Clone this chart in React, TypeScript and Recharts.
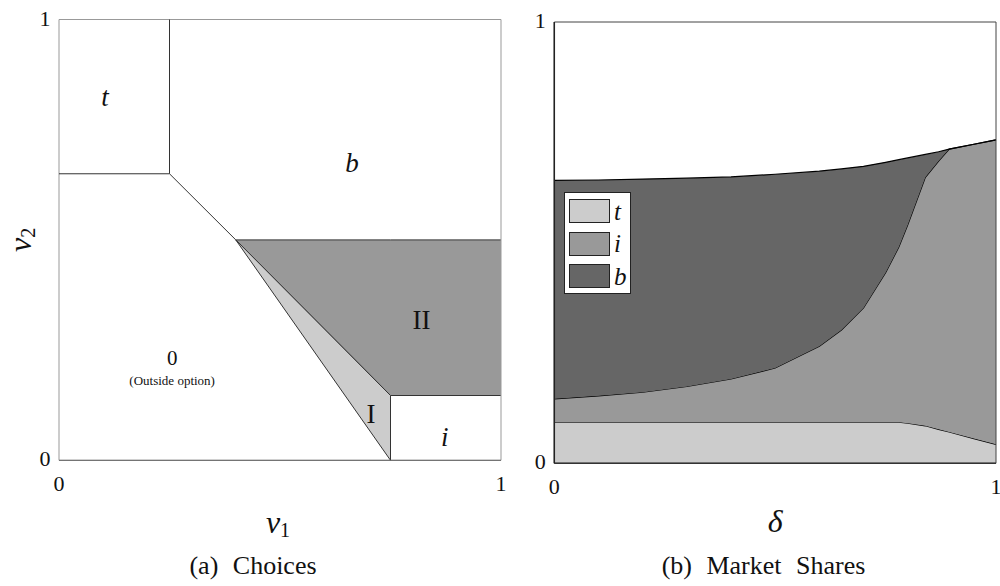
import React from 'react'
import {
  ComposedChart, Area, Scatter, XAxis, YAxis, ReferenceLine, ReferenceArea, Legend,
} from 'recharts'

// ─── Shared ──────────────────────────────────────────────────────────────────

const FONT = '"Liberation Serif", "DejaVu Serif", serif'
const INK = '#111'

// ─── Panel (a): choice regions over (v1, v2) ─────────────────────────────────

const UNIT_TICKS = [0, 1]

// region I (light wedge): v1 → [lower, upper] boundary in v2
const WEDGE_V1 = [0.4, 0.75]
const WEDGE_LOW = [0.5, 0]
const WEDGE_HIGH = [0.5, 0.147]

// region II (dark band)
const BAND_V1 = [0.4, 0.75, 1]
const BAND_LOW = [0.5, 0.147, 0.147]
const BAND_HIGH = [0.5, 0.5, 0.5]

// boundary segments as [v1 start, v2 start, v1 end, v2 end]
const BOUNDARIES = [
  [0.25, 0.65, 0.25, 1],
  [0, 0.65, 0.25, 0.65],
  [0.25, 0.65, 0.4, 0.5],
  [0.75, 0, 0.75, 0.147],
]

const REGION_TEXT = ['t', 'b', 'II', '0', '(Outside option)', 'I', 'i']
const REGION_V1 = [0.104, 0.663, 0.82, 0.256, 0.256, 0.706, 0.873]
const REGION_V2 = [0.824, 0.674, 0.318, 0.232, 0.18, 0.105, 0.053]

const REGION_STYLE: Record<string, { size: number; italic: boolean }> = {
  't': { size: 27, italic: true },
  'b': { size: 27, italic: true },
  'i': { size: 27, italic: true },
  'II': { size: 27, italic: false },
  'I': { size: 27, italic: false },
  '0': { size: 21, italic: false },
  '(Outside option)': { size: 13, italic: false },
}

// ─── Panel (b): market shares over δ ─────────────────────────────────────────

const DELTA = [0, 0.1, 0.2, 0.3, 0.4, 0.5, 0.6, 0.65, 0.7, 0.75, 0.78, 0.8, 0.84, 0.87, 0.894, 0.95, 1]
const SHARE_T = [0.093, 0.093, 0.093, 0.093, 0.093, 0.093, 0.093, 0.093, 0.093, 0.093, 0.093, 0.091, 0.085, 0.077, 0.071, 0.056, 0.043]
const SHARE_I = [0.053, 0.06, 0.068, 0.081, 0.098, 0.123, 0.172, 0.209, 0.259, 0.339, 0.397, 0.449, 0.563, 0.608, 0.641, 0.667, 0.69]
const SHARE_B = [0.495, 0.489, 0.483, 0.472, 0.458, 0.439, 0.397, 0.365, 0.321, 0.25, 0.198, 0.152, 0.052, 0.021, 0, 0, 0]

const SERIES = ['t', 'i', 'b']
const SERIES_FILL: Record<string, string> = { t: '#cccccc', i: '#999999', b: '#666666' }

// ─── Tick / label renderers ──────────────────────────────────────────────────

function XTick(props: any) {
  const { x, y, payload } = props
  return (
    <text x={x} y={y} dy={23} textAnchor="middle" dominantBaseline="central"
      fontFamily={FONT} fontSize={22} fill={INK}>
      {payload.value}
    </text>
  )
}

function YTick(props: any) {
  const { x, y, payload } = props
  return (
    <text x={x} y={y} dx={-14} dy={-1.5} textAnchor="middle" dominantBaseline="central"
      fontFamily={FONT} fontSize={22} fill={INK}>
      {payload.value}
    </text>
  )
}

function mathTitle(letter: string, sub: string | null, dx: number, dy: number, rotate = false) {
  return (props: any) => {
    const vb = props.viewBox ?? props
    const cx = vb.x + vb.width / 2 + dx
    const cy = vb.y + (rotate ? vb.height / 2 : 0) + dy
    return (
      <text x={cx} y={cy} textAnchor="middle" dominantBaseline="central" fontFamily={FONT}
        fontSize={32} fill={INK} transform={rotate ? `rotate(-90, ${cx}, ${cy})` : undefined}>
        <tspan fontStyle="italic">{letter}</tspan>
        {sub && <tspan fontSize={20} dy={8}>{sub}</tspan>}
      </text>
    )
  }
}

function RegionLabel(props: any) {
  const { cx, cy, payload } = props
  const st = REGION_STYLE[payload.text]
  return (
    <text x={cx} y={cy} textAnchor="middle" dominantBaseline="central" fontFamily={FONT}
      fontSize={st.size} fontStyle={st.italic ? 'italic' : 'normal'} fill={INK}>
      {payload.text}
    </text>
  )
}

function ShareLegend(props: any) {
  const entries = [...(props.payload ?? [])].sort(
    (a: any, b: any) => SERIES.indexOf(a.value) - SERIES.indexOf(b.value),
  )
  return (
    <div style={{
      background: '#fff', border: '1px solid #222', boxSizing: 'border-box',
      width: 67, height: 102, padding: '2px 0 0 4px',
    }}>
      {entries.map((e: any) => (
        <div key={e.value} style={{ display: 'flex', alignItems: 'center', height: 32.5 }}>
          <span style={{
            display: 'inline-block', width: 41, height: 24, boxSizing: 'border-box',
            background: SERIES_FILL[e.value], border: '1px solid #222',
          }} />
          <span style={{ fontFamily: FONT, fontStyle: 'italic', fontSize: 25, marginLeft: 4, color: INK, lineHeight: 1 }}>
            {e.value}
          </span>
        </div>
      ))}
    </div>
  )
}

const captionStyle: React.CSSProperties = {
  position: 'absolute', top: 550, width: 300, textAlign: 'center',
  fontFamily: FONT, fontSize: 26, wordSpacing: 8, color: INK, lineHeight: '32px',
}

// ═════════════════════════════════════════════════════════════════════════════

export default function App() {
  const wedgeRows = WEDGE_V1.map((v1, k) => ({ v1, range: [WEDGE_LOW[k], WEDGE_HIGH[k]] }))
  const bandRows = BAND_V1.map((v1, k) => ({ v1, range: [BAND_LOW[k], BAND_HIGH[k]] }))
  const labelRows = REGION_TEXT.map((text, k) => ({ v1: REGION_V1[k], v2: REGION_V2[k], text }))
  const shareRows = DELTA.map((delta, k) => ({ delta, t: SHARE_T[k], i: SHARE_I[k], b: SHARE_B[k] }))

  return (
    <div style={{ position: 'absolute', left: 0, top: 0, width: 1000, height: 586, background: '#fff' }}>
      {/* ── (a) Choices ── */}
      <div style={{ position: 'absolute', left: 0, top: 0 }}>
        <ComposedChart width={520} height={586} margin={{ top: 19.5, right: 19, bottom: 0, left: 0 }}>
          <XAxis dataKey="v1" type="number" domain={[0, 1]} ticks={UNIT_TICKS} height={125.7}
            axisLine={{ stroke: '#666' }} tickLine={false} tickSize={0} tickMargin={0} tick={<XTick />}
            label={mathTitle('v', '1', -2, 62)} />
          <YAxis type="number" domain={[0, 1]} ticks={UNIT_TICKS} width={59}
            axisLine={false} tickLine={false} tickSize={0} tickMargin={0} tick={<YTick />}
            label={mathTitle('v', '2', -9.5, 0, true)} />
          <Area data={bandRows} dataKey="range" type="linear" fill="#999999" fillOpacity={1}
            stroke="#333" strokeWidth={1} isAnimationActive={false} />
          <Area data={wedgeRows} dataKey="range" type="linear" fill="#cccccc" fillOpacity={1}
            stroke="#333" strokeWidth={1} isAnimationActive={false} />
          {BOUNDARIES.map(([xa, ya, xb, yb], k) => (
            <ReferenceLine key={k} segment={[{ x: xa, y: ya }, { x: xb, y: yb }]} stroke="#333" strokeWidth={1} />
          ))}
          <ReferenceArea x1={0} x2={1} y1={0} y2={1} fill="none" stroke="#999" strokeWidth={1} />
          <Scatter data={labelRows} dataKey="v2" shape={<RegionLabel />} isAnimationActive={false} legendType="none" />
        </ComposedChart>
      </div>
      <div style={{ ...captionStyle, left: 253 - 150 }}>(a) Choices</div>

      {/* ── (b) Market Shares ── */}
      <div style={{ position: 'absolute', left: 500, top: 0 }}>
        <ComposedChart width={500} height={586} data={shareRows} margin={{ top: 22, right: 4, bottom: 0, left: 0 }}>
          <XAxis dataKey="delta" type="number" domain={[0, 1]} ticks={UNIT_TICKS} height={122.7}
            axisLine={{ stroke: '#333', strokeWidth: 1.5 }} tickLine={false} tickSize={0} tickMargin={0} tick={<XTick />}
            label={mathTitle('δ', null, 0, 58)} />
          <YAxis type="number" domain={[0, 1]} ticks={UNIT_TICKS} width={54.3}
            axisLine={{ stroke: '#222', strokeWidth: 1.5 }} tickLine={false} tickSize={0} tickMargin={0}
            tick={(p: any) => <YTick {...p} />} />
          {SERIES.map((key) => (
            <Area key={key} name={key} dataKey={key} stackId="share" type="linear"
              fill={SERIES_FILL[key]} fillOpacity={1} stroke="#000" strokeWidth={1.2}
              isAnimationActive={false} />
          ))}
          <ReferenceArea x1={0} x2={1} y1={0} y2={1} fill="none" stroke="#444" strokeWidth={1} />
          <Legend layout="horizontal" verticalAlign="middle" align="center"
            wrapperStyle={{ left: 64, top: 192, width: 67 }} content={<ShareLegend />} />
        </ComposedChart>
      </div>
      <div style={{ ...captionStyle, left: 763.5 - 150 }}>(b) Market Shares</div>
    </div>
  )
}
